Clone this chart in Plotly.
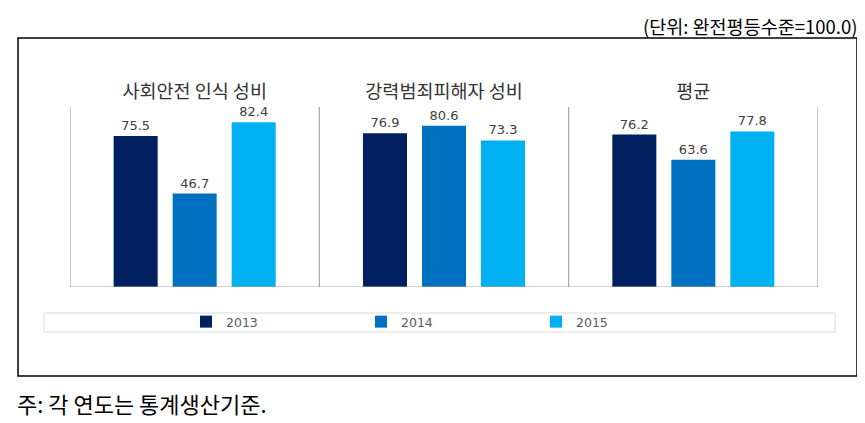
import plotly.graph_objects as go

categories = ["사회안전 인식 성비", "강력범죄피해자 성비", "평균"]
years = ["2013", "2014", "2015"]
values_2013 = [75.5, 76.9, 76.2]
values_2014 = [46.7, 80.6, 63.6]
values_2015 = [82.4, 73.3, 77.8]
colors = ["#002060", "#0070C0", "#00B0F0"]
unit_text = "(단위: 완전평등수준=100.0)"
note_text = "주: 각 연도는 통계생산기준."

series = [values_2013, values_2014, values_2015]

fig = go.Figure()
for yr, vals, col in zip(years, series, colors):
    fig.add_trace(go.Bar(
        x=categories, y=vals, name=yr,
        marker=dict(color=col, line=dict(width=0)),
        text=[f"{v:.1f}" for v in vals], textposition="outside",
        textfont=dict(family="DejaVu Sans", size=13, color="#404040"),
        cliponaxis=False,
    ))

# The page body adds an 8px offset, so the figure is drawn 8px smaller
OFF = 8
W, H = 865 - OFF, 423 - OFF
L, R, T, B = 70 - OFF, 47, 107 - OFF, 136
pw = W - L - R
ph = H - T - B

def px_x(x):
    return (x - OFF - L) / pw

def px_y(y):
    return (H - B - (y - OFF)) / ph

shapes = []
for xv in [-0.5, 0.5, 1.5, 2.5]:
    shapes.append(dict(type="line", xref="x", yref="y", x0=xv, x1=xv, y0=0, y1=90,
                       line=dict(color="#A6A6A6", width=1.2)))
shapes.append(dict(type="line", xref="x", yref="y", x0=-0.5, x1=2.5, y0=0, y1=0,
                   line=dict(color="#A6A6A6", width=1.2)))
shapes.append(dict(type="rect", xref="paper", yref="paper",
                   x0=px_x(18), x1=px_x(857), y0=px_y(376), y1=px_y(38),
                   line=dict(color="#000000", width=1.5), layer="below"))
shapes.append(dict(type="rect", xref="paper", yref="paper",
                   x0=px_x(44), x1=px_x(835), y0=px_y(332), y1=px_y(313),
                   line=dict(color="#D9D9D9", width=1), layer="below"))

fig.update_layout(
    width=W, height=H,
    margin=dict(l=L, r=R, t=T, b=B),
    paper_bgcolor="white", plot_bgcolor="white",
    barmode="group", bargap=0.29, bargroupgap=0.254,
    font=dict(family="Noto Sans CJK KR", color="#262626"),
    xaxis=dict(side="top", showgrid=False, zeroline=False, showline=False,
               ticks="", tickfont=dict(size=18.5, color="#333333"),
               ticklabelstandoff=4,
               range=[-0.5, 2.5], fixedrange=True),
    yaxis=dict(range=[0, 90], showgrid=False, zeroline=False, showline=False,
               showticklabels=False, ticks="", fixedrange=True),
    showlegend=True,
    legend=dict(orientation="h", x=px_x(186), xanchor="left",
                y=px_y(322), yanchor="middle",
                font=dict(family="DejaVu Sans", size=12.5, color="#595959"),
                bgcolor="rgba(0,0,0,0)", entrywidth=130, itemwidth=30,
                traceorder="normal"),
    shapes=shapes,
    annotations=[
        dict(text=unit_text, xref="paper", yref="paper", x=px_x(859), y=px_y(26),
             xanchor="right", yanchor="middle", showarrow=False,
             font=dict(size=18.5, color="#000000")),
        dict(text=note_text, xref="paper", yref="paper", x=px_x(15), y=px_y(403),
             xanchor="left", yanchor="middle", showarrow=False,
             font=dict(size=22, color="#000000")),
    ],
)

fig.write_html("out.html")
